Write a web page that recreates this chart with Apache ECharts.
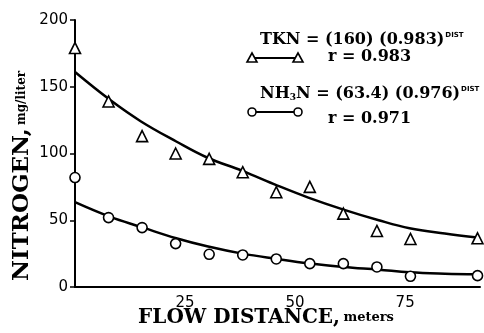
<!DOCTYPE html>
<html><head><meta charset="utf-8">
<script src="https://cdn.jsdelivr.net/npm/echarts@6/dist/echarts.min.js"></script>
<style>html,body{margin:0;padding:0;background:#fff}#c{width:484px;height:333px}</style>
</head><body><div id="c"></div>
<script>
// Observed sampling stations (m) and concentrations (mg/liter)
const distance = [0, 7.62, 15.24, 22.86, 30.48, 38.1, 45.72, 53.34, 60.96, 68.58, 76.2, 91.44];
const tknObserved = [179, 139, 113, 100, 96, 86, 71, 75, 55, 42, 36, 36.5];
const nh3nObserved = [82, 52, 44.5, 32.5, 24.5, 24, 21, 17.5, 17.5, 15, 8, 8.5];
// Fitted curves
const fitDistance = [0, 8, 15, 23, 30, 38, 46, 53, 61, 69, 76, 84, 91.4];
const tknFit = [161, 140, 124, 109, 97, 87, 76, 67, 58, 50, 44, 40, 37];
const nh3nFit = [63.5, 52.5, 45, 36.5, 30.5, 25, 21, 17.8, 15, 13, 11, 10, 9.6];
// Tick labels
const xTicks = [25, 50, 75];
const yTicks = [0, 50, 100, 150, 200];

const zip = (xs, ys) => xs.map((x, i) => [x, ys[i]]);
const chart = echarts.init(document.getElementById('c'), null, {renderer: 'canvas'});
const serif = 'DejaVu Serif';
const mark = {color: '#fff', borderColor: '#000', borderWidth: 1.6, opacity: 1};

chart.setOption({
  animation: false,
  backgroundColor: '#fff',
  grid: {left: 75, right: 4, top: 20, bottom: 46},
  xAxis: {
    type: 'value', min: 0, max: 92, interval: 25,
    axisLine: {show: true, lineStyle: {color: '#000', width: 2}},
    axisTick: {show: false},
    splitLine: {show: false},
    axisLabel: {
      showMinLabel: false, showMaxLabel: false, margin: 9,
      color: '#000', fontFamily: 'DejaVu Sans', fontSize: 15,
      formatter: v => xTicks.includes(v) ? String(v) : ''
    }
  },
  yAxis: {
    type: 'value', min: 0, max: 200, interval: 50,
    axisLine: {show: true, lineStyle: {color: '#000', width: 2}},
    axisTick: {show: true, inside: false, length: 5, lineStyle: {color: '#000', width: 1.5}},
    splitLine: {show: false},
    axisLabel: {
      margin: 7, color: '#000', fontFamily: 'DejaVu Sans', fontSize: 15,
      formatter: v => yTicks.includes(v) ? String(v) : ''
    }
  },
  series: [
    {type: 'line', data: zip(fitDistance, tknFit), smooth: 0.4, showSymbol: false,
     lineStyle: {color: '#000', width: 2.5}, z: 2, silent: true},
    {type: 'line', data: zip(fitDistance, nh3nFit), smooth: 0.4, showSymbol: false,
     lineStyle: {color: '#000', width: 2.5}, z: 2, silent: true},
    {type: 'scatter', name: 'TKN', data: zip(distance, tknObserved), symbol: 'triangle',
     symbolSize: 11, itemStyle: mark, z: 5},
    {type: 'scatter', name: 'NH3N', data: zip(distance, nh3nObserved), symbol: 'circle',
     symbolSize: 10, itemStyle: mark, z: 5}
  ],
  graphic: [
    {type: 'text', x: 266, y: 318, style: {
      text: '{a|FLOW DISTANCE,} {b|meters}', align: 'center', verticalAlign: 'middle',
      rich: {
        a: {fontFamily: serif, fontWeight: 'bold', fontSize: 20, fill: '#000'},
        b: {fontFamily: serif, fontWeight: 'bold', fontSize: 13, fill: '#000'}
      }}},
    {type: 'text', x: 22, y: 176, rotation: Math.PI / 2, style: {
      text: '{a|NITROGEN,} {b|mg/liter}', align: 'center', verticalAlign: 'middle',
      rich: {
        a: {fontFamily: serif, fontWeight: 'bold', fontSize: 23, fill: '#000'},
        b: {fontFamily: serif, fontWeight: 'bold', fontSize: 12, fill: '#000'}
      }}},
    {type: 'line', shape: {x1: 252, y1: 58, x2: 298, y2: 58}, style: {stroke: '#000', lineWidth: 2}},
    {type: 'polygon', shape: {points: [[252, 53], [247, 62], [257, 62]]}, style: {fill: '#fff', stroke: '#000', lineWidth: 1.6}},
    {type: 'polygon', shape: {points: [[298, 53], [293, 62], [303, 62]]}, style: {fill: '#fff', stroke: '#000', lineWidth: 1.6}},
    {type: 'line', shape: {x1: 252, y1: 112, x2: 298, y2: 112}, style: {stroke: '#000', lineWidth: 2}},
    {type: 'circle', shape: {cx: 252, cy: 112, r: 4}, style: {fill: '#fff', stroke: '#000', lineWidth: 1.6}},
    {type: 'circle', shape: {cx: 298, cy: 112, r: 4}, style: {fill: '#fff', stroke: '#000', lineWidth: 1.6}},
    {type: 'text', left: 260, top: 32, style: {
      text: '{a|TKN = (160) (0.983)}{s|DIST}',
      rich: {
        a: {fontFamily: serif, fontWeight: 'bold', fontSize: 16, fill: '#000', lineHeight: 20},
        s: {fontFamily: 'DejaVu Sans', fontWeight: 'bold', fontSize: 7, fill: '#000', verticalAlign: 'top', padding: [2, 0, 0, 1]}
      }}},
    {type: 'text', left: 328, top: 49, style: {
      text: 'r = 0.983', font: 'bold 16px "DejaVu Serif"', fill: '#000'}},
    {type: 'text', left: 260, top: 86, style: {
      text: '{a|NH}{b|3}{a|N = (63.4) (0.976)}{s|DIST}',
      rich: {
        a: {fontFamily: serif, fontWeight: 'bold', fontSize: 16, fill: '#000', lineHeight: 20},
        b: {fontFamily: serif, fontWeight: 'bold', fontSize: 9, fill: '#000', verticalAlign: 'bottom', padding: [0, 0, 2, 0]},
        s: {fontFamily: 'DejaVu Sans', fontWeight: 'bold', fontSize: 7, fill: '#000', verticalAlign: 'top', padding: [2, 0, 0, 1]}
      }}},
    {type: 'text', left: 328, top: 111, style: {
      text: 'r = 0.971', font: 'bold 16px "DejaVu Serif"', fill: '#000'}}
  ]
});
</script>
</body></html>
